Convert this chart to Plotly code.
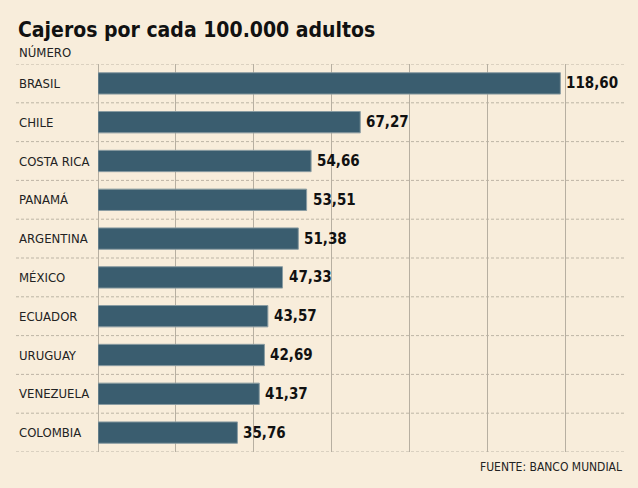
import plotly.graph_objects as go

countries = ["BRASIL", "CHILE", "COSTA RICA", "PANAMÁ", "ARGENTINA", "MÉXICO",
             "ECUADOR", "URUGUAY", "VENEZUELA", "COLOMBIA"]
values = [118.60, 67.27, 54.66, 53.51, 51.38, 47.33, 43.57, 42.69, 41.37, 35.76]
x_ticks = [0, 20, 40, 60, 80, 100, 120]

title = "Cajeros por cada 100.000 adultos"
subtitle = "NÚMERO"
source = "FUENTE: BANCO MUNDIAL"

BG = "#f8eddb"
BAR = "#3a5d6f"
GRID = "#b7afa1"
DASH = "#bdb5a6"
FONT = "DejaVu Sans Condensed, DejaVu Sans, sans-serif"

W, H = 638, 488
L, R, T, B = 98, 71, 64, 36
pw = W - L - R
XMAX = 120.3

fig = go.Figure()
fig.add_trace(go.Bar(
    x=values, y=countries, orientation="h",
    marker=dict(color=BAR, line=dict(color="#8a9ca2", width=1)),
    width=0.55, hoverinfo="skip",
))

annotations = []
for c, v in zip(countries, values):
    annotations.append(dict(x=v, y=c, xref="x", yref="y", text=f"{v:.2f}".replace(".", ","),
                            showarrow=False, xanchor="left", xshift=4,
                            font=dict(family=FONT, size=15, color="#111111", weight="bold")))
    annotations.append(dict(x=(17 - L) / pw, y=c, xref="paper", yref="y", text=c,
                            showarrow=False, xanchor="left",
                            font=dict(family=FONT, size=13, color="#222222")))

annotations.append(dict(x=(16 - L) / pw, y=1 + (T - 30) / (H - T - B), xref="paper", yref="paper",
                        text=f"<b>{title}</b>", showarrow=False, xanchor="left", yanchor="middle",
                        font=dict(family=FONT, size=21, color="#111111")))
annotations.append(dict(x=(17 - L) / pw, y=1 + (T - 52) / (H - T - B), xref="paper", yref="paper",
                        text=subtitle, showarrow=False, xanchor="left", yanchor="middle",
                        font=dict(family=FONT, size=13, color="#222222")))
annotations.append(dict(x=(624 - L) / pw, y=-(467 - (H - B)) / (H - T - B), xref="paper", yref="paper",
                        text=source, showarrow=False, xanchor="right", yanchor="middle",
                        font=dict(family=FONT, size=12, color="#222222")))

shapes = []
for i in range(len(countries) + 1):
    shapes.append(dict(type="line", xref="paper", yref="y",
                       x0=(16 - L) / pw, x1=(624 - L) / pw, y0=i - 0.5, y1=i - 0.5,
                       line=dict(color=DASH, width=1, dash="3px,2px"), layer="below"))

fig.update_layout(
    width=W, height=H, margin=dict(l=L, r=R, t=T, b=B),
    paper_bgcolor=BG, plot_bgcolor=BG, showlegend=False,
    annotations=annotations, shapes=shapes,
    xaxis=dict(range=[0, XMAX], tickvals=x_ticks, showticklabels=False, showgrid=True,
               gridcolor=GRID, gridwidth=1, zeroline=True, zerolinecolor=GRID,
               zerolinewidth=1, showline=False, fixedrange=True),
    yaxis=dict(categoryorder="array", categoryarray=countries, autorange=False,
               range=[9.5, -0.5], showticklabels=False, showgrid=False, zeroline=False,
               fixedrange=True),
)

fig.write_html("out.html")
